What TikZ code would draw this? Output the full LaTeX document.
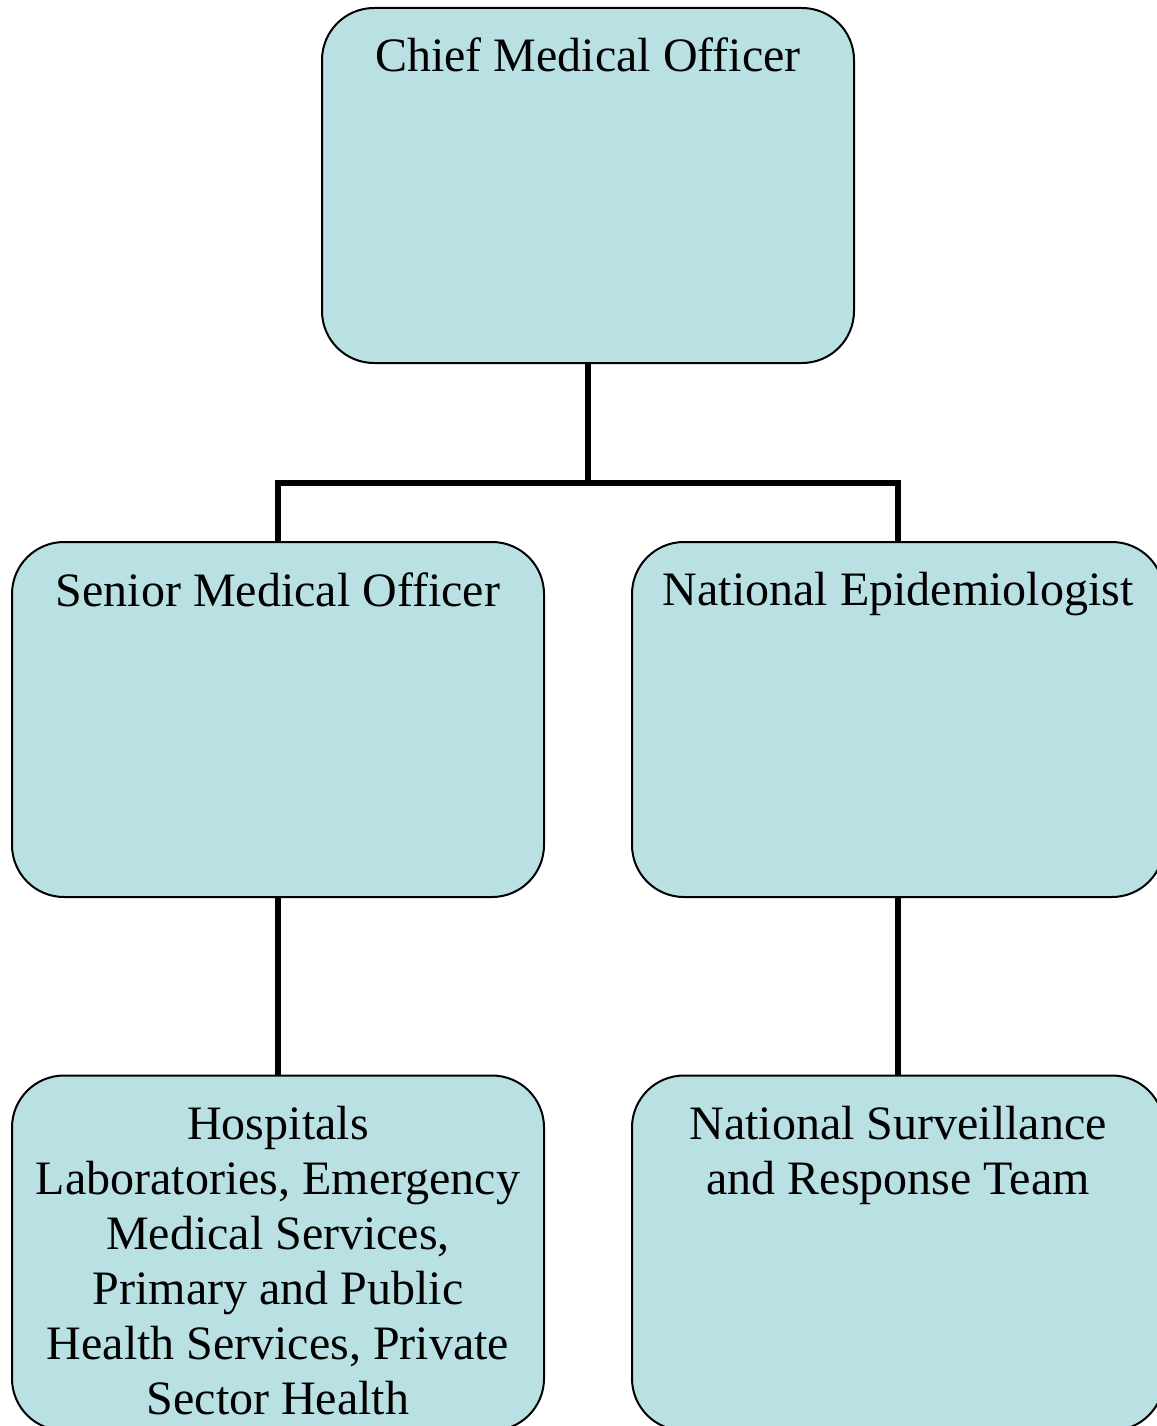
\documentclass[tikz,border=0pt]{standalone}
\usepackage{fontspec}
\setmainfont{Liberation Serif}
\usepackage{tikz}
\definecolor{boxblue}{RGB}{185,224,227}

\tikzset{
  orgbox/.style={draw=black, line width=2pt, fill=boxblue, rounded corners=52pt,
    minimum width=532pt, minimum height=355pt, inner sep=0pt},
  orgtext/.style={anchor=north, inner sep=0pt, align=center,
    font=\fontsize{48}{55}\selectfont},
  link/.style={draw=black, line width=6pt}
}

\begin{document}
\begin{tikzpicture}[x=1pt, y=1pt]
	\useasboundingbox (0,0) rectangle (1156,-1426);
	% boxes
	\node[orgbox] (cmo) at (588,-185.5) {};
	\node[orgbox] (smo) at (278,-719.5) {};
	\node[orgbox] (epi) at (898,-719.5) {};
	\node[orgbox] (hosp) at (278,-1253) {};
	\node[orgbox] (nsrt) at (898,-1253) {};
	% texts
	\node[orgtext] (cmotext) at ([yshift=-31pt]cmo.north) {Chief Medical Officer};
	\node[orgtext] (smotext) at ([yshift=-31pt]smo.north) {Senior Medical Officer};
	\node[orgtext] (epitext) at ([yshift=-31pt]epi.north) {National Epidemiologist};
	\node[orgtext] (hosptext) at ([yshift=-31pt]hosp.north) {Hospitals\\Laboratories, Emergency\\Medical Services,\\Primary and Public\\Health Services, Private\\Sector Health};
	\node[orgtext] (nsrttext) at ([yshift=-31pt]nsrt.north) {National Surveillance\\and Response Team};
	% connectors
	\coordinate (fork) at (588,-482.5);
	\draw[link] (cmo.south) -- (fork);
	\draw[link] (smo.north) |- (fork) -| (epi.north);
	\draw[link] (smo.south) -- (hosp.north);
	\draw[link] (epi.south) -- (nsrt.north);
\end{tikzpicture}
\end{document}
